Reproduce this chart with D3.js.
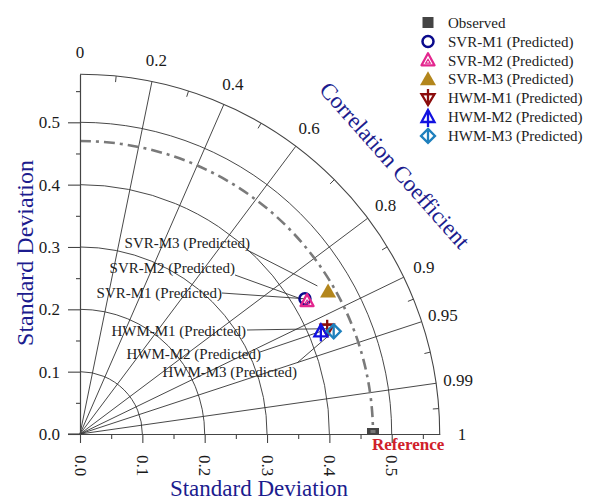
<!DOCTYPE html>
<html><head><meta charset="utf-8">
<script src="https://cdn.jsdelivr.net/npm/d3@7"></script>
<style>
html,body{margin:0;padding:0;background:#fff;}
svg{display:block;font-family:"Liberation Serif","Times New Roman",serif;}
</style></head>
<body>
<svg id="chart" width="589" height="502"></svg>
<script>
// ---------------- data ----------------
const sdTicks = [0, 0.1, 0.2, 0.3, 0.4, 0.5];
const sdMinorTicks = [0.05, 0.15, 0.25, 0.35, 0.45, 0.55];
const sdGridArcs = [0.1, 0.2, 0.3, 0.4, 0.5];
const corrTicks = [0, 0.2, 0.4, 0.6, 0.8, 0.9, 0.95, 0.99, 1];
const corrTickLabels = ["0", "0.2", "0.4", "0.6", "0.8", "0.9", "0.95", "0.99", "1"];
const maxSD = 0.577;
const observedName = "Observed";
const observedSD = 0.47;
const models = ["SVR-M1 (Predicted)", "SVR-M2 (Predicted)", "SVR-M3 (Predicted)",
                "HWM-M1 (Predicted)", "HWM-M2 (Predicted)", "HWM-M3 (Predicted)"];
const modelSD   = [0.421, 0.422, 0.459, 0.431, 0.420, 0.439];
const modelCorr = [0.857, 0.863, 0.867, 0.920, 0.920, 0.927];

// ---------------- layout / style ----------------
const ox = 80, oy = 434, Rpx = 359.7;
const markerTypes = ["circle", "triOpen", "triFill", "triDownPlus", "triUpPlus", "diamondPlus"];
const markerColors = ["#0a0a8c", "#e3268e", "#b3861c", "#8b0c0c", "#1212e0", "#1f80bd"];
const labelLayout = [
  {tx: 222, ty: 293, lx: 222, ly: 293, gap: 0},
  {tx: 235, ty: 268, lx: 235, ly: 275, gap: 6},
  {tx: 250, ty: 243, lx: 247, ly: 250, gap: 12},
  {tx: 246, ty: 331, lx: 247, ly: 330, gap: 0},
  {tx: 261, ty: 354, lx: 260, ly: 352, gap: 0},
  {tx: 297, ty: 372, lx: 297, ly: 363, gap: 4}
];
const navy = "#1c1c8e";
const gridColor = "#333";

const svg = d3.select("#chart");
const x = d3.scaleLinear().domain([0, maxSD]).range([ox, ox + Rpx]);
const y = d3.scaleLinear().domain([0, maxSD]).range([oy, oy - Rpx]);
const r = d3.scaleLinear().domain([0, maxSD]).range([0, Rpx]);
const ang = c => Math.acos(c); // polar angle from x-axis
const toXY = (sd, c) => [x(sd * c), y(sd * Math.sqrt(Math.max(0, 1 - c * c)))];

function arcPath(rad) {
  const p = d3.path();
  p.moveTo(ox, oy - rad);
  p.arc(ox, oy, rad, -Math.PI / 2, 0, false);
  return p.toString();
}

const grid = svg.append("g");
grid.selectAll(".sdarc").data(sdGridArcs).join("path")
  .attr("d", d => arcPath(r(d))).attr("fill", "none")
  .attr("stroke", gridColor).attr("stroke-width", 0.9);
grid.selectAll(".rad").data(corrTicks.filter(c => c > 0 && c < 1)).join("line")
  .attr("x1", ox).attr("y1", oy)
  .attr("x2", d => toXY(maxSD, d)[0]).attr("y2", d => toXY(maxSD, d)[1])
  .attr("stroke", gridColor).attr("stroke-width", 0.9);
grid.append("path").attr("d", arcPath(r(maxSD))).attr("fill", "none")
  .attr("stroke", "#444").attr("stroke-width", 1.1);
const minorAngles = d3.pairs(corrTicks).map(([a, b]) => (ang(a) + ang(b)) / 2);
grid.selectAll(".mt").data(minorAngles).join("line")
  .attr("x1", d => ox + r(maxSD) * Math.cos(d)).attr("y1", d => oy - r(maxSD) * Math.sin(d))
  .attr("x2", d => ox + (r(maxSD) - 6) * Math.cos(d)).attr("y2", d => oy - (r(maxSD) - 6) * Math.sin(d))
  .attr("stroke", "#444").attr("stroke-width", 1);
svg.selectAll(".cl").data(corrTicks).join("text")
  .attr("x", d => ox + 382 * Math.cos(ang(d)))
  .attr("y", d => oy - 382 * Math.sin(ang(d)))
  .attr("text-anchor", "middle").attr("dy", "0.35em")
  .attr("font-size", 17).attr("fill", "#1a1a1a")
  .text((d, i) => corrTickLabels[i]);

svg.append("path").attr("d", arcPath(r(observedSD))).attr("fill", "none")
  .attr("stroke", "#7a7a7a").attr("stroke-width", 2.6)
  .attr("stroke-dasharray", "11,5,3,5");

const yAxis = d3.axisLeft(y).tickValues(sdTicks).tickFormat(d3.format(".1f"))
  .tickSize(12).tickSizeOuter(0).tickPadding(8);
const yMinor = d3.axisLeft(y).tickValues(sdMinorTicks).tickFormat("").tickSize(4).tickSizeOuter(0);
const xAxis = d3.axisBottom(x).tickValues(sdTicks).tickFormat(d3.format(".1f"))
  .tickSize(9).tickSizeOuter(0);
const xMinor = d3.axisBottom(x).tickValues(sdMinorTicks).tickFormat("").tickSize(5).tickSizeOuter(0);

function styleAxis(g) {
  g.selectAll("path,line").attr("stroke", "#444").attr("stroke-width", 1.1);
  g.selectAll("text").attr("font-family", "Liberation Serif").attr("font-size", 17).attr("fill", "#1a1a1a");
}
svg.append("g").attr("transform", `translate(${ox},0)`).call(yMinor).call(styleAxis);
svg.append("g").attr("transform", `translate(${ox},0)`).call(yAxis).call(styleAxis);
svg.append("g").attr("transform", `translate(0,${oy})`).call(xMinor).call(styleAxis);
const gx = svg.append("g").attr("transform", `translate(0,${oy})`).call(xAxis).call(styleAxis);
gx.selectAll(".tick text")
  .attr("transform", "rotate(90)").attr("x", 21).attr("y", 0)
  .attr("dy", "0.35em").attr("text-anchor", "start");
svg.append("line").attr("x1", ox - 12).attr("x2", ox).attr("y1", oy).attr("y2", oy)
  .attr("stroke", "#444").attr("stroke-width", 1.1);

// axis titles
svg.append("text").attr("x", 259).attr("y", 496).attr("text-anchor", "middle")
  .attr("font-size", 23).attr("fill", navy).text("Standard Deviation");
svg.append("text").attr("transform", "translate(33,253) rotate(-90)").attr("text-anchor", "middle")
  .attr("font-size", 24).attr("fill", navy).text("Standard Deviation");
svg.append("text").attr("transform", "translate(395,165) rotate(48.5)").attr("text-anchor", "middle")
  .attr("dy", "0.35em").attr("font-size", 23).attr("fill", navy).text("Correlation Coefficient");

function drawMarker(g, type, color) {
  const sw = 2.3;
  if (type === "square") {
    g.append("rect").attr("x", -5.5).attr("y", -5.5).attr("width", 11).attr("height", 11).attr("fill", color);
  } else if (type === "circle") {
    g.append("circle").attr("r", 5.5).attr("fill", "none").attr("stroke", color).attr("stroke-width", 2.5);
  } else if (type === "triOpen") {
    g.append("path").attr("d", "M0,-7L6.5,5L-6.5,5Z").attr("fill", "none").attr("stroke", color).attr("stroke-width", sw).attr("stroke-linejoin", "round");
    g.append("path").attr("d", "M0,-1L2.3,2.8L-2.3,2.8Z").attr("fill", "none").attr("stroke", color).attr("stroke-width", 1.2);
  } else if (type === "triFill") {
    g.append("path").attr("d", "M0,-8L8,6L-8,6Z").attr("fill", color);
  } else if (type === "triDownPlus") {
    g.append("path").attr("d", "M-6.5,-4L6.5,-4L0,7Z").attr("fill", "none").attr("stroke", color).attr("stroke-width", sw);
    g.append("path").attr("d", "M0,-9L0,7M-7,-4L7,-4").attr("stroke", color).attr("stroke-width", sw);
  } else if (type === "triUpPlus") {
    g.append("path").attr("d", "M0,-7L6.5,5L-6.5,5Z").attr("fill", "none").attr("stroke", color).attr("stroke-width", sw);
    g.append("path").attr("d", "M0,-7L0,10").attr("stroke", color).attr("stroke-width", sw);
  } else if (type === "diamondPlus") {
    g.append("path").attr("d", "M0,-7L7,0L0,7L-7,0Z").attr("fill", "none").attr("stroke", color).attr("stroke-width", sw);
    g.append("path").attr("d", "M0,-7L0,7").attr("stroke", color).attr("stroke-width", sw);
  }
}

svg.append("clipPath").attr("id", "plotclip").append("rect")
  .attr("x", 0).attr("y", 0).attr("width", 589).attr("height", oy);
const obs = svg.append("g").attr("clip-path", "url(#plotclip)")
  .append("g").attr("transform", `translate(${x(observedSD)},${oy})`);
obs.append("rect").attr("x", -6).attr("y", -6).attr("width", 12).attr("height", 12).attr("fill", "#444");
obs.append("rect").attr("x", -2.5).attr("y", -4).attr("width", 5).attr("height", 3).attr("fill", "#777");
svg.append("text").attr("x", x(observedSD) - 1).attr("y", 450)
  .attr("font-size", 17).attr("font-weight", "bold").attr("fill", "#d0202a").text("Reference");

const pts = models.map((m, i) => toXY(modelSD[i], modelCorr[i]));
models.forEach((m, i) => {
  const L = labelLayout[i], [px, py] = pts[i];
  const dx = L.lx - px, dy = L.ly - py, len = Math.hypot(dx, dy);
  svg.append("line").attr("x1", L.lx).attr("y1", L.ly)
    .attr("x2", px + dx / len * L.gap).attr("y2", py + dy / len * L.gap)
    .attr("stroke", "#333").attr("stroke-width", 0.9);
  svg.append("text").attr("x", L.tx).attr("y", L.ty).attr("dy", "0.35em")
    .attr("text-anchor", "end").attr("font-size", 15).attr("fill", "#222").text(m);
});
models.forEach((m, i) => {
  const g = svg.append("g").attr("transform", `translate(${pts[i][0]},${pts[i][1]})`);
  drawMarker(g, markerTypes[i], markerColors[i]);
});

const legendNames = [observedName].concat(models);
const legendTypes = ["square"].concat(markerTypes);
const legendColors = ["#444"].concat(markerColors);
legendNames.forEach((n, i) => {
  const ly = 22.5 + i * 18.9;
  const g = svg.append("g").attr("transform", `translate(428,${ly})`);
  drawMarker(g, legendTypes[i], legendColors[i]);
  svg.append("text").attr("x", 448).attr("y", ly).attr("dy", "0.35em")
    .attr("font-size", 15).attr("fill", "#222").text(n);
});
</script>
</body></html>
